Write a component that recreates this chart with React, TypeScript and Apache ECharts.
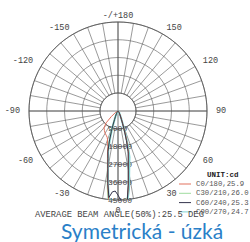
import React, { useEffect, useRef } from 'react';
import * as echarts from 'echarts';

const angles = [-90, -80, -70, -60, -50, -45, -40, -35, -30, -25, -22, -20, -18, -16, -14, -12, -10, -8, -6, -4, -2, 0, 2, 4, 6, 8, 10, 12, 14, 16, 18, 20, 22, 25, 30, 35, 40, 45, 50, 60, 70, 80, 90];

const c0_180 = [40, 100, 300, 1500, 4500, 8500, 11000, 12000, 13000, 13800, 14500, 15500, 17000, 18500, 21800, 25000, 30000, 37500, 45200, 45800, 46000, 45800, 45600, 45400, 45000, 38000, 30500, 25500, 22000, 16500, 11500, 7200, 5000, 3100, 1700, 1100, 700, 500, 400, 250, 150, 80, 40];
const c30_210 = [40, 90, 200, 350, 500, 650, 800, 1100, 1800, 3300, 5200, 7500, 11500, 16800, 22000, 25800, 31000, 39000, 46500, 46800, 46200, 45800, 45500, 45200, 44500, 37500, 30000, 25200, 21800, 16200, 11200, 7100, 4900, 3100, 1700, 1100, 750, 550, 420, 260, 160, 90, 40];
const c60_240 = [40, 80, 180, 320, 480, 600, 760, 1000, 1600, 3000, 4700, 7000, 10800, 15800, 21000, 24500, 29500, 37000, 44000, 41000, 40500, 42500, 45500, 45800, 45200, 37200, 29800, 24800, 21200, 15500, 10500, 6800, 4600, 2900, 1600, 1000, 700, 500, 400, 250, 150, 80, 40];
const c90_270 = [40, 80, 170, 300, 450, 560, 720, 950, 1500, 2800, 4400, 6600, 10200, 15000, 20500, 24000, 29000, 36500, 44500, 45600, 45900, 46000, 45900, 45800, 45500, 40000, 32500, 27500, 24000, 18000, 12000, 7400, 5000, 3000, 1600, 1000, 700, 500, 400, 250, 150, 80, 40];

const seriesNames = ['C0/180,25.9', 'C30/210,26.0', 'C60/240,25.3', 'C90/270,24.7'];
const seriesColors = ['#e0705c', '#9fdc9f', '#34344c', '#7fd4d4'];
const seriesValues = [c0_180, c30_210, c60_240, c90_270];
const seriesWidths = [1, 1, 1, 2];
const seriesZ = [4, 3, 5, 2];

const mono = 'Liberation Mono';
const gridColor = '#555';
const labelBase = { fontFamily: mono, fontSize: 8.5, color: '#444' };

const angleLabelFormatter = (v: number) => {
  if (v === -180) return '{p0|-/+180}';
  if (v === 180) return '';
  if (v % 30 !== 0) return '';
  if (v === 0) return '{pb|0}';
  const a = Math.abs(v);
  const key = a === 90 ? 'p7' : (a === 60 || a === 120) ? 'p6' : 'p3';
  return `{${key}|${v}}`;
};

export default function App() {
  const ref = useRef<HTMLDivElement>(null);
  useEffect(() => {
    if (!ref.current) return;
    const chart = echarts.init(ref.current, undefined, { renderer: 'svg' });
    const center = [118, 111];
    chart.setOption({
      animation: false,
      backgroundColor: '#ffffff',
      title: [
        { text: 'UNIT:cd', left: 207, top: 171, padding: 0, textStyle: { fontFamily: mono, fontSize: 7.5, fontWeight: 'bold', color: '#222' } },
        { text: 'AVERAGE BEAM ANGLE(50%):25.5 DEG', left: 35, top: 210, padding: 0, textStyle: { fontFamily: mono, fontSize: 8.8, fontWeight: 'normal', color: '#444' } },
        { text: 'Symetrická - úzká', left: 61, top: 220, padding: 0, textStyle: { fontFamily: 'Lato', fontSize: 21, fontWeight: 'normal', color: '#2a80c8' } },
      ],
      legend: {
        orient: 'vertical', left: 179, top: 180, padding: 0,
        itemWidth: 12, itemHeight: 1, itemGap: 1.3, icon: 'rect',
        data: seriesNames,
        textStyle: { fontFamily: mono, fontSize: 7.3, color: '#555', lineHeight: 8 },
      },
      polar: [
        { center, radius: [18, 89] },
        { center, radius: [0, 89] },
      ],
      angleAxis: [
        {
          polarIndex: 0, type: 'value', min: -180, max: 180, interval: 10, startAngle: 90, clockwise: false,
          axisLine: { lineStyle: { color: gridColor, width: 0.8 } },
          axisTick: { show: false },
          axisLabel: {
            formatter: angleLabelFormatter, margin: 2, ...labelBase,
            rich: {
              p0: { ...labelBase },
              pb: { ...labelBase, padding: [4, 0, 0, 0] },
              p3: { ...labelBase, padding: [0, 3, 0, 3] },
              p6: { ...labelBase, padding: [0, 6, 0, 6] },
              p7: { ...labelBase, padding: [0, 7, 0, 7] },
            },
          },
          splitLine: { lineStyle: { color: gridColor, width: 0.6 } },
        },
        {
          polarIndex: 1, type: 'value', min: 0, max: 360, interval: 90, startAngle: -90, clockwise: false,
          axisLine: { show: false }, axisTick: { show: false }, axisLabel: { show: false },
          splitLine: { show: true, lineStyle: { color: gridColor, width: 0.8 } },
        },
      ],
      radiusAxis: [
        {
          polarIndex: 0, type: 'value', min: 0, max: 4, interval: 1,
          axisLine: { show: false }, axisTick: { show: false }, axisLabel: { show: false },
          splitLine: { show: true, lineStyle: { color: gridColor, width: 0.6 } },
        },
        {
          polarIndex: 1, type: 'value', min: 0, max: 45000, interval: 9000,
          axisLine: { show: false }, axisTick: { show: false },
          axisLabel: { showMinLabel: false, margin: -10, formatter: (v: number) => String(v), fontFamily: mono, fontSize: 8, color: '#444' },
          splitLine: { show: false },
        },
      ],
      series: seriesNames.map((name, k) => ({
        name, type: 'line', coordinateSystem: 'polar', polarIndex: 1,
        symbol: 'none', z: seriesZ[k],
        color: seriesColors[k],
        lineStyle: { color: seriesColors[k], width: seriesWidths[k] },
        data: angles.map((a, i) => [seriesValues[k][i], (a + 360) % 360]),
      })),
    });
    return () => chart.dispose();
  }, []);
  return <div ref={ref} style={{ position: 'fixed', left: 0, top: 0, width: 250, height: 242, background: '#fff' }} />;
}
